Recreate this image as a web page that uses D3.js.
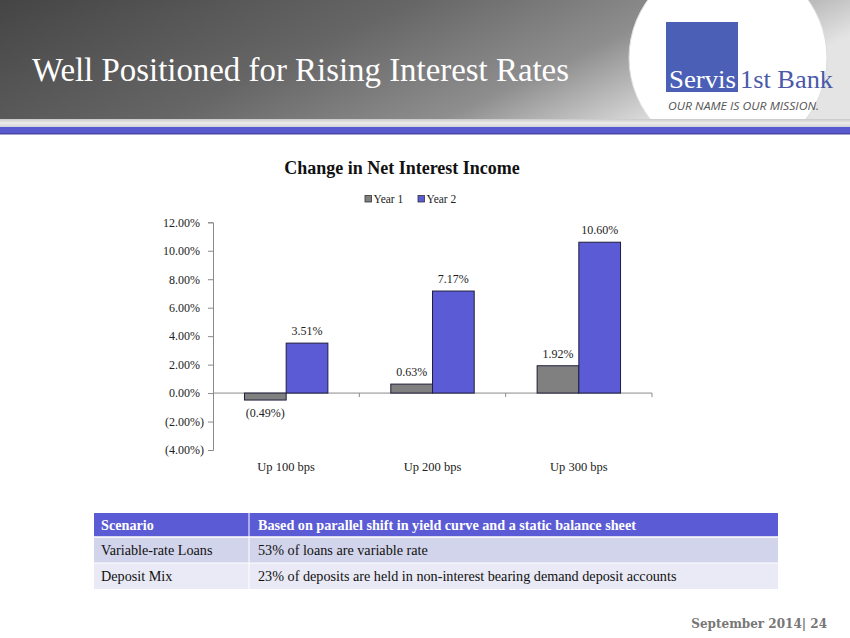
<!DOCTYPE html>
<html><head><meta charset="utf-8">
<script src="https://cdn.jsdelivr.net/npm/d3@7/dist/d3.min.js"></script>
<style>html,body{margin:0;padding:0;background:#fff;}svg{display:block;}</style>
</head><body>
<script>
const categories = ["Up 100 bps", "Up 200 bps", "Up 300 bps"];
const seriesNames = ["Year 1", "Year 2"];
const year1 = [-0.49, 0.63, 1.92];
const year2 = [3.51, 7.17, 10.60];
const yTicks = [-4, -2, 0, 2, 4, 6, 8, 10, 12];
const seriesColors = ["#808080", "#5b5bd6"];
const tableRows = [
  ["Scenario", "Based on parallel shift in yield curve and a static balance sheet"],
  ["Variable-rate Loans", "53% of loans are variable rate"],
  ["Deposit Mix", "23% of deposits are held in non-interest bearing demand deposit accounts"]
];

const W = 850, H = 638;
const serif = "'Liberation Serif','Times New Roman',serif";
const svg = d3.select("body").append("svg").attr("width", W).attr("height", H);
const defs = svg.append("defs");
const g1 = defs.append("linearGradient").attr("id","hdr").attr("x1","0").attr("y1","0").attr("x2","1").attr("y2","0.3");
g1.append("stop").attr("offset","0").attr("stop-color","#454545");
g1.append("stop").attr("offset","0.45").attr("stop-color","#666666");
g1.append("stop").attr("offset","0.75").attr("stop-color","#8e8e8e");
g1.append("stop").attr("offset","1").attr("stop-color","#e4e4e4");
const g2 = defs.append("linearGradient").attr("id","strip").attr("x1","0").attr("y1","0").attr("x2","0").attr("y2","1");
g2.append("stop").attr("offset","0").attr("stop-color","#c8c8c8");
g2.append("stop").attr("offset","0.5").attr("stop-color","#ececec");
g2.append("stop").attr("offset","1").attr("stop-color","#d0d0d8");
defs.append("clipPath").attr("id","hclip").append("rect").attr("x",0).attr("y",0).attr("width",W).attr("height",120);

// header
svg.append("rect").attr("x",0).attr("y",0).attr("width",W).attr("height",120).attr("fill","url(#hdr)");
svg.append("circle").attr("clip-path","url(#hclip)").attr("cx",728).attr("cy",58).attr("r",99)
  .attr("fill","#ffffff").attr("stroke","#dcdcdc").attr("stroke-width",1);
svg.append("rect").attr("x",0).attr("y",119).attr("width",W).attr("height",8).attr("fill","url(#strip)");
svg.append("rect").attr("x",0).attr("y",127).attr("width",W).attr("height",7).attr("fill","#5959cf");
svg.append("rect").attr("x",0).attr("y",133).attr("width",W).attr("height",1.5).attr("fill","#4646a8");

svg.append("text").attr("x",32).attr("y",81).attr("fill","#ffffff")
  .style("font-family",serif).style("font-size","34px")
  .attr("textLength",537).attr("lengthAdjust","spacingAndGlyphs")
  .text("Well Positioned for Rising Interest Rates");

// logo
svg.append("rect").attr("x",666).attr("y",22).attr("width",72).attr("height",70).attr("fill","#4b5fb6");
svg.append("text").attr("x",669).attr("y",88).attr("fill","#ffffff")
  .style("font-family",serif).style("font-size","25px")
  .attr("textLength",67).attr("lengthAdjust","spacingAndGlyphs").text("Servis");
svg.append("text").attr("x",740).attr("y",88).attr("fill","#4a5aa8")
  .style("font-family",serif).style("font-size","25px")
  .attr("textLength",93).attr("lengthAdjust","spacingAndGlyphs").text("1st Bank");
svg.append("text").attr("x",668).attr("y",110).attr("fill","#555555")
  .style("font-family","'Open Sans',sans-serif").style("font-size","10px").style("font-style","italic")
  .attr("textLength",151).attr("lengthAdjust","spacingAndGlyphs").text("OUR NAME IS OUR MISSION.");

// chart title
svg.append("text").attr("x",402).attr("y",174).attr("text-anchor","middle")
  .style("font-family",serif).style("font-size","18px").style("font-weight","bold").attr("fill","#111")
  .text("Change in Net Interest Income");

const y = d3.scaleLinear().domain([-4, 12]).range([450, 222.3]);
const x0 = d3.scaleBand().domain(categories).range([213, 652]).paddingInner(0.43).paddingOuter(0.215);
const x1 = d3.scaleBand().domain(seriesNames).range([0, x0.bandwidth()]);

const fmt = v => v < 0 ? "(" + Math.abs(v).toFixed(2) + "%)" : v.toFixed(2) + "%";

// y axis
const yAxis = svg.append("g").attr("transform","translate(213,0)")
  .call(d3.axisLeft(y).tickValues(yTicks).tickSize(5).tickFormat(fmt));
yAxis.select(".domain").attr("stroke","#8a8a8a");
yAxis.selectAll(".tick line").attr("stroke","#8a8a8a");
yAxis.selectAll(".tick text").style("font-family",serif).style("font-size","12px").attr("fill","#222")
  .attr("x", d => d < 0 ? -9 : -13);

// x axis at zero
const xg = svg.append("g");
xg.append("line").attr("x1",213).attr("x2",652).attr("y1",y(0)).attr("y2",y(0)).attr("stroke","#8a8a8a");
const bounds = categories.slice(1).map(c => x0(c) - x0.step() * x0.paddingInner() / 2).concat([652]);
xg.selectAll("line.tk").data(bounds).join("line").attr("class","tk")
  .attr("x1",d=>d).attr("x2",d=>d).attr("y1",y(0)).attr("y2",y(0)+4).attr("stroke","#8a8a8a");
xg.selectAll("text.cat").data(categories).join("text").attr("class","cat")
  .attr("x",d=>x0(d)+x0.bandwidth()/2).attr("y",471).attr("text-anchor","middle")
  .style("font-family",serif).style("font-size","12.5px").attr("fill","#222").text(d=>d);

// bars
const data = categories.map((c,i)=>({cat:c, vals:[{s:seriesNames[0], v:year1[i], c:seriesColors[0]},{s:seriesNames[1], v:year2[i], c:seriesColors[1]}]}));
const grp = svg.selectAll("g.grp").data(data).join("g").attr("class","grp")
  .attr("transform", d=>`translate(${x0(d.cat)},0)`);
grp.selectAll("rect").data(d=>d.vals).join("rect")
  .attr("x", d=>x1(d.s)).attr("width", x1.bandwidth())
  .attr("y", d=>y(Math.max(0,d.v))).attr("height", d=>Math.abs(y(d.v)-y(0)))
  .attr("fill", d=>d.c).attr("stroke","#1e1e3c").attr("stroke-width",1);
grp.selectAll("text").data(d=>d.vals).join("text")
  .attr("x", d=>x1(d.s)+x1.bandwidth()/2)
  .attr("y", d=> d.v<0 ? y(d.v)+17 : y(d.v)-8)
  .attr("text-anchor","middle").style("font-family",serif).style("font-size","12px").attr("fill","#222")
  .text(d=>fmt(d.v));

// legend
const leg = svg.append("g");
const legX = [365, 418];
seriesNames.forEach((s,i)=>{
  leg.append("rect").attr("x",legX[i]).attr("y",195.5).attr("width",6.5).attr("height",6.5)
    .attr("fill",seriesColors[i]).attr("stroke","#333").attr("stroke-width",0.8);
  leg.append("text").attr("x",legX[i]+8.5).attr("y",203).style("font-family",serif).style("font-size","11.5px")
    .attr("fill","#222").text(s);
});

// table
const tx = 94, tw = 684, colX = 249;
const rowY = [513, 537, 563, 589];
const rowFill = ["#5b5bd6", "#d1d4ea", "#e9eaf5"];
const tbl = svg.append("g");
tableRows.forEach((r,i)=>{
  tbl.append("rect").attr("x",tx).attr("y",rowY[i]).attr("width",tw).attr("height",rowY[i+1]-rowY[i]).attr("fill",rowFill[i]);
  const cy = (rowY[i]+rowY[i+1])/2 + 5;
  tbl.append("text").attr("x",101).attr("y",cy).style("font-family",serif).style("font-size","14.2px")
    .style("font-weight", i===0?"bold":"normal").attr("fill", i===0?"#ffffff":"#111").text(r[0]);
  tbl.append("text").attr("x",258).attr("y",cy).style("font-family",serif).style("font-size","14.2px")
    .style("font-weight", i===0?"bold":"normal").attr("fill", i===0?"#ffffff":"#111").text(r[1]);
});
tbl.append("line").attr("x1",tx).attr("x2",tx+tw).attr("y1",537).attr("y2",537).attr("stroke","#ffffff").attr("stroke-width",1.5);
tbl.append("line").attr("x1",tx).attr("x2",tx+tw).attr("y1",563).attr("y2",563).attr("stroke","#ffffff").attr("stroke-width",1);
tbl.append("line").attr("x1",colX).attr("x2",colX).attr("y1",513).attr("y2",589).attr("stroke","#ffffff").attr("stroke-width",1);

// footer
svg.append("text").attr("x",827).attr("y",628).attr("text-anchor","end")
  .style("font-family","'DejaVu Serif','Liberation Serif',serif").style("font-size","12px").style("font-weight","bold")
  .attr("fill","#777777").text("September 2014| 24");
</script>
</body></html>
